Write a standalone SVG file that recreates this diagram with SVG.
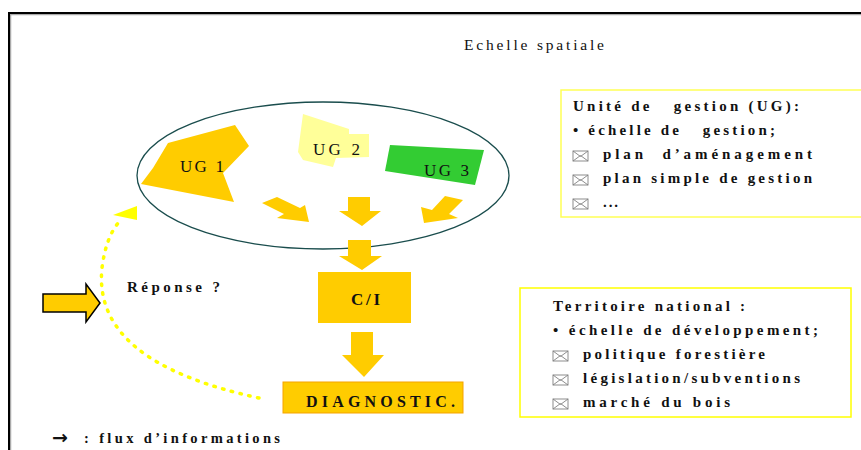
<svg xmlns="http://www.w3.org/2000/svg" width="861" height="450" viewBox="0 0 861 450">
<style>
.b{font-family:"Liberation Serif","Times New Roman",serif;font-weight:bold;fill:#111;}
.r{font-family:"Liberation Serif","Times New Roman",serif;fill:#111;}
.fill{fill:#ffcc00;}
.env{fill:none;stroke:#808080;stroke-width:0.9;}
.box{fill:#fff;stroke:#ffff00;stroke-width:1.5;}
</style>
<defs>
<g id="envelope"><rect class="env" x="0" y="0" width="15" height="10"/><path class="env" d="M0 0 L7.5 5.5 L15 0 M0 10 L7.5 4.5 L15 10"/></g>
</defs>
<rect width="861" height="450" fill="#fff"/>
<g id="frame">
<path d="M10 451 V14 H862" fill="none" stroke="#aaa" stroke-width="2.5"/>
<path d="M9 450 V13 H861" fill="none" stroke="#000" stroke-width="2"/>
</g>
<g id="title"><text class="r" x="464" y="50" font-size="15.5" textLength="140" lengthAdjust="spacing">Echelle spatiale</text></g>
<g id="ellipse"><ellipse cx="323" cy="175.5" rx="186" ry="73.5" fill="none" stroke="#1a4d4d" stroke-width="1.3"/></g>
<g id="ug1"><polygon fill="#ffcc00" points="141,184 153,168 168,143 235,125 249,146 223,173 234,202"/><text class="r" x="180" y="172" font-size="17" textLength="44" lengthAdjust="spacing">UG 1</text></g>
<g id="ug2"><polygon fill="#ffff99" points="303,114 349,129 349,134 369,134 369,157 336,158 333,167 303,160 298,152"/><text class="r" x="313" y="155" font-size="17" textLength="47" lengthAdjust="spacing">UG 2</text></g>
<g id="ug3"><polygon fill="#33cc33" points="390,145 484,150 475,185 385,171"/><text class="r" x="424" y="176" font-size="17" textLength="45" lengthAdjust="spacing">UG 3</text></g>
<g id="ci"><rect class="fill" x="318" y="272" width="93" height="51"/><text class="b" x="351" y="305" font-size="17" textLength="29" lengthAdjust="spacing">C/I</text></g>
<g id="diagnostic"><rect x="283" y="382" width="180" height="31" fill="#ffcc00" stroke="#f5a300" stroke-width="1"/><text class="b" x="306" y="407" font-size="16" textLength="149" lengthAdjust="spacing">DIAGNOSTIC.</text></g>
<g id="connectors">
<polygon class="fill" points="262,203 277,197 300,208 305,205 309,222 277,218 284,214"/>
<polygon class="fill" points="348,197 370,197 370,211 381,211 362,226 339,211 348,211"/>
<polygon class="fill" points="463,200 445,196 432,210 421,207 424,223 458,218 449,214"/>
<polygon class="fill" points="348,240 371,240 371,256 382,256 362,270 339,256 348,256"/>
<polygon class="fill" points="351,332 373,332 373,355 384,355 364,377 342,355 351,355"/>
<path d="M259 398 Q 92 362 102 268 Q 106 236 120 221" fill="none" stroke="#ffff00" stroke-width="3.5" stroke-linecap="round" stroke-dasharray="1.5 7.5"/>
<polygon fill="#ffff00" points="113,215 137,206 137,220"/>
<polygon fill="#ffcc00" stroke="#000" stroke-width="1.5" points="43,294 86,294 86,284 100,303 86,322 86,312 43,312"/>
</g>
<g id="reponse"><text class="b" x="127" y="292" font-size="15" textLength="93" lengthAdjust="spacing">Réponse ?</text></g>
<g id="legend"><text x="52" y="444" style="font-family:'DejaVu Sans',sans-serif;font-size:19px;font-weight:bold;fill:#111">→</text><text class="b" x="84" y="443" font-size="14.5" textLength="196" lengthAdjust="spacing">: flux d’informations</text></g>
<g id="ug-box">
<rect class="box" x="561" y="90" width="305" height="127" style="stroke:#ffff55"/>
<text class="b" x="573" y="111" font-size="15" xml:space="preserve" textLength="226" lengthAdjust="spacing">Unité de   gestion (UG):</text>
<text class="b" x="573" y="135" font-size="15" xml:space="preserve" textLength="202" lengthAdjust="spacing">• échelle de   gestion;</text>
<use href="#envelope" x="573" y="151"/>
<text class="b" x="603" y="159" font-size="15" xml:space="preserve" textLength="209" lengthAdjust="spacing">plan  d’aménagement</text>
<use href="#envelope" x="573" y="175"/>
<text class="b" x="603" y="183" font-size="15" textLength="209" lengthAdjust="spacing">plan simple de gestion</text>
<use href="#envelope" x="573" y="199"/>
<text class="b" x="603" y="207" font-size="15" textLength="15" lengthAdjust="spacing">...</text>
</g>
<g id="territoire-box">
<rect class="box" x="520" y="288" width="331" height="129"/>
<text class="b" x="553" y="311" font-size="15" textLength="192" lengthAdjust="spacing">Territoire national :</text>
<text class="b" x="553" y="335" font-size="15" textLength="265" lengthAdjust="spacing">• échelle de développement;</text>
<use href="#envelope" x="553" y="351"/>
<text class="b" x="583" y="359" font-size="15" textLength="182" lengthAdjust="spacing">politique forestière</text>
<use href="#envelope" x="553" y="375"/>
<text class="b" x="583" y="383" font-size="15" textLength="217" lengthAdjust="spacing">législation/subventions</text>
<use href="#envelope" x="553" y="399"/>
<text class="b" x="583" y="407" font-size="15" textLength="147" lengthAdjust="spacing">marché du bois</text>
</g>
</svg>
